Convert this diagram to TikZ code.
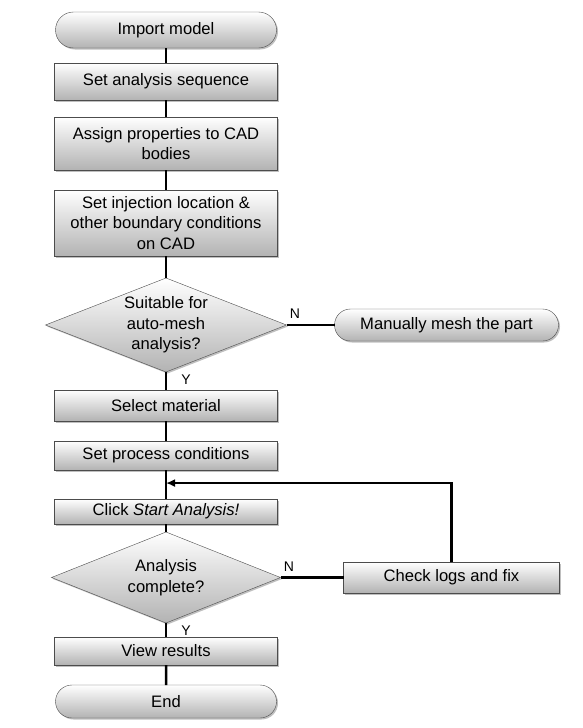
\documentclass[tikz,border=0pt]{standalone}
\usepackage{fontspec}
\setmainfont{Liberation Sans}
\usetikzlibrary{shapes,arrows.meta,positioning,shadows,calc}

\begin{document}
\begin{tikzpicture}[
    x=1pt, y=1pt,
    font=\fontsize{16.6}{20.5}\selectfont,
    base/.style={draw=black!70, top color=white, bottom color=black!30, text centered, outer sep=0pt,
                 drop shadow={shadow xshift=1.5pt, shadow yshift=-1.5pt, fill=black!50, opacity=.5}},
    process/.style={base, rectangle, minimum width=223pt, inner sep=1pt, align=center},
    terminal/.style={base, rounded rectangle, minimum width=223pt, inner sep=1pt},
    decision/.style={base, diamond, aspect=2.5, inner sep=0pt, align=center},
    link/.style={line width=2.5pt, color=black},
    arrow/.style={-{Latex[length=9pt, width=8pt]}, line width=2.5pt, color=black},
    yn/.style={font=\fontsize{14}{16}\selectfont, inner sep=2pt}
]
    \useasboundingbox (0,0) rectangle (583,-728);

    % main column
    \node[terminal, minimum height=36pt] (imp) at (166,-30) {Import model};
    \node[process, minimum height=37pt, below=15pt of imp] (seq) {Set analysis sequence};
    \node[process, minimum height=53pt, below=17pt of seq] (props) {Assign properties to CAD\\bodies};
    \node[process, minimum height=66pt, below=20pt of props] (inject) {Set injection location \&\\other boundary conditions\\on CAD};
    \node[decision, minimum width=241pt, minimum height=94pt, below=22pt of inject] (auto) {Suitable for\\auto-mesh\\analysis?};
    \node[process, minimum height=31pt, below=18pt of auto] (mat) {Select material};
    \node[process, minimum height=29pt, below=20pt of mat] (cond) {Set process conditions};
    \node[process, minimum height=25pt, below=29pt of cond] (run) {Click \textit{Start Analysis!}};
    \node[decision, minimum width=229pt, minimum height=91pt, below=8pt of run] (done) {Analysis\\complete?};
    \node[process, minimum height=28pt, below=14pt of done] (view) {View results};
    \node[terminal, minimum height=33pt, below=20pt of view] (end) {End};

    % side branches
    \node[terminal, minimum width=226pt, minimum height=32pt, right=48pt of auto] (mesh) {Manually mesh the part};
    \node[process, minimum width=216pt, minimum height=31pt, right=63pt of done] (fix) {Check logs and fix};

    % connectors
    \draw[link] (imp) -- (seq);
    \draw[link] (seq) -- (props);
    \draw[link] (props) -- (inject);
    \draw[link] (inject) -- (auto);
    \draw[link] (auto) -- node[yn, pos=0, below right, xshift=12pt] {Y} (mat);
    \draw[link] (auto) -- node[yn, pos=0, above right, yshift=3pt] {N} (mesh);
    \draw[link] (mat) -- (cond);
    \draw[link] (cond) -- (run);
    \draw[link] (run) -- (done);
    \draw[link] (done) -- node[yn, pos=0, below right, xshift=12pt] {Y} (view);
    \draw[link] (done) -- node[yn, pos=0, above right, yshift=3pt] {N} (fix);
    \draw[link] (view) -- (end);

    % loop back
    \coordinate (back) at ($(cond.south)!0.45!(run.north)$);
    \draw[arrow] (fix.north) |- (back);
\end{tikzpicture}
\end{document}
